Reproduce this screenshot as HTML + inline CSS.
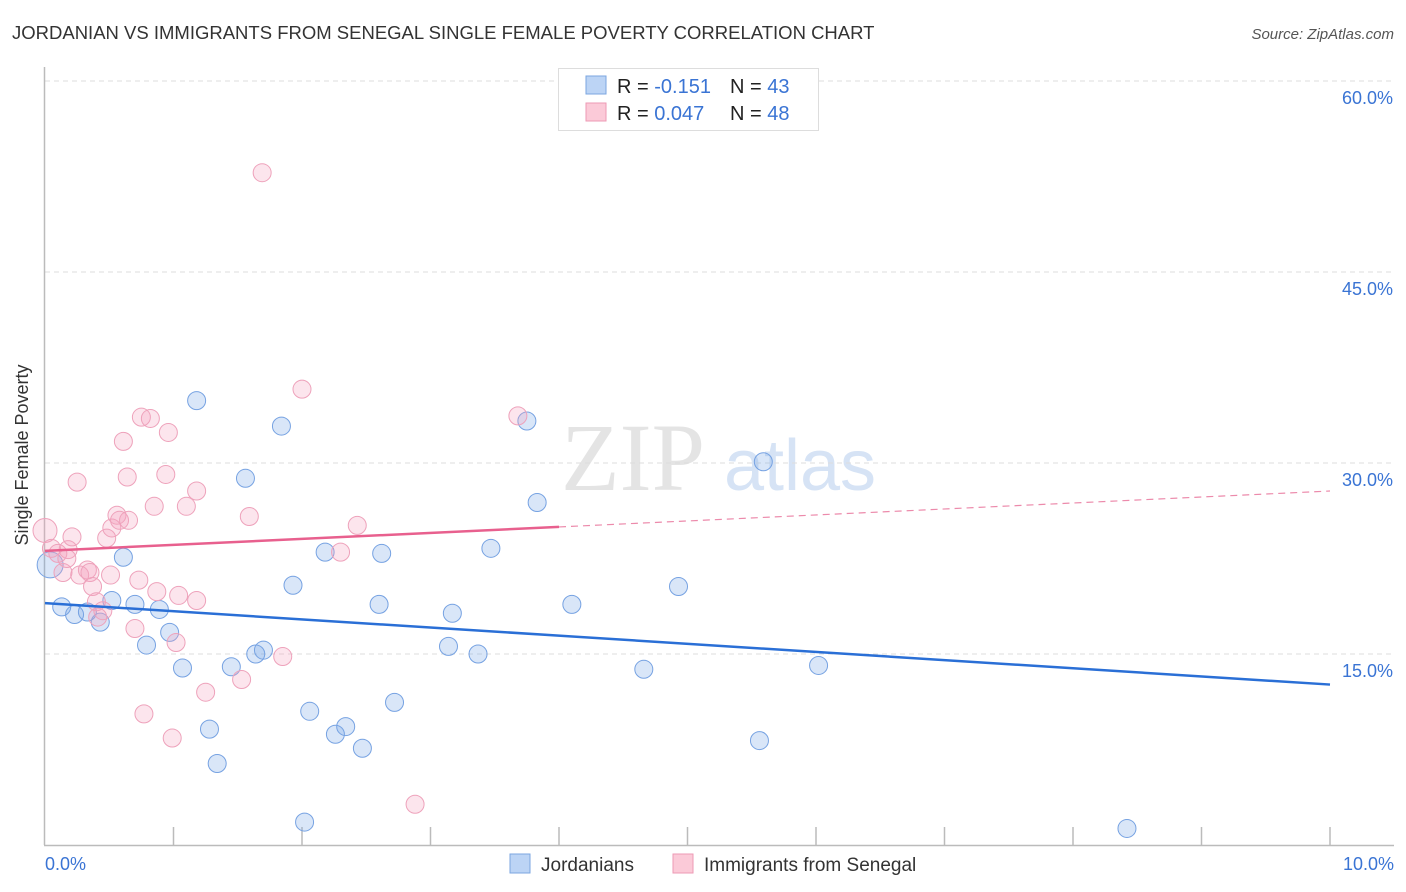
<!DOCTYPE html>
<html><head><meta charset="utf-8">
<style>
body{margin:0;background:#fff;font-family:"Liberation Sans",sans-serif;}
#wrap{position:relative;width:1406px;height:892px;overflow:hidden;}
svg{position:absolute;left:0;top:0;}
</style></head>
<body>
<div id="wrap">
<svg id="chart" width="1406" height="892">
  <text x="12" y="39" font-size="18.5" fill="#333">JORDANIAN VS IMMIGRANTS FROM SENEGAL SINGLE FEMALE POVERTY CORRELATION CHART</text>
  <text x="1394" y="39" font-size="15" fill="#555" font-style="italic" text-anchor="end">Source: ZipAtlas.com</text>
  <text x="633" y="490" font-size="96" fill="#e4e4e4" font-family="Liberation Serif,serif" text-anchor="middle">ZIP</text>
  <text x="800" y="490" font-size="72" fill="#d6e3f5" text-anchor="middle">atlas</text>
  <g id="grid"></g>
  <g id="axes"></g>
  <g id="pts"></g>
  <g id="trend"></g>
  <text transform="translate(28,455) rotate(-90)" font-size="18" fill="#333" text-anchor="middle">Single Female Poverty</text>
  <g>
    <rect x="558.5" y="68.5" width="260" height="62" fill="#fff" stroke="#ddd"/>
    <rect x="586" y="76" width="20" height="18" fill="#bcd4f5" stroke="#7ba6e0"/>
    <rect x="586" y="103" width="20" height="18" fill="#fbcad8" stroke="#ee9ab4"/>
    <text x="617" y="93" font-size="20" fill="#222">R = <tspan fill="#3a74d4">-0.151</tspan></text>
    <text x="730" y="93" font-size="20" fill="#222">N = <tspan fill="#3a74d4">43</tspan></text>
    <text x="617" y="120" font-size="20" fill="#222">R = <tspan fill="#3a74d4">0.047</tspan></text>
    <text x="730" y="120" font-size="20" fill="#222">N = <tspan fill="#3a74d4">48</tspan></text>
  </g>
  <g>
    <rect x="510" y="854" width="20" height="19" fill="#bcd4f5" stroke="#7ba6e0"/>
    <text x="541" y="871" font-size="19" fill="#333">Jordanians</text>
    <rect x="673" y="854" width="20" height="19" fill="#fbcad8" stroke="#ee9ab4"/>
    <text x="704" y="871" font-size="19" fill="#333">Immigrants from Senegal</text>
  </g>
  <text x="45" y="870" font-size="18" fill="#3a74d4">0.0%</text>
  <text x="1394" y="870" font-size="18" fill="#3a74d4" text-anchor="end">10.0%</text>
</svg>
</div>
<script>
const yTicks=[15,30,45,60];
const yTickLabels=["15.0%","30.0%","45.0%","60.0%"];
const xTicks=[0,1,2,3,4,5,6,7,8,9,10];
const blueX=[0.04,0.13,0.23,0.33,0.43,0.52,0.61,0.70,0.79,0.89,0.97,1.07,1.18,1.28,1.34,1.45,1.56,1.64,1.70,1.84,1.93,2.02,2.06,2.18,2.26,2.34,2.47,2.60,2.62,2.72,3.17,3.14,3.37,3.47,3.75,3.83,4.10,4.66,4.93,5.56,5.59,6.02,8.42];
const blueY=[22.0,18.7,18.1,18.3,17.5,19.2,22.6,18.9,15.7,18.5,16.7,13.9,34.9,9.1,6.4,14.0,28.8,15.0,15.3,32.9,20.4,1.8,10.5,23.0,8.7,9.3,7.6,18.9,22.9,11.2,18.2,15.6,15.0,23.3,33.3,26.9,18.9,13.8,20.3,8.2,30.1,14.1,1.3];
const pinkX=[0.0,0.05,0.10,0.14,0.18,0.21,0.25,0.27,0.33,0.35,0.37,0.40,0.45,0.48,0.52,0.56,0.58,0.61,0.64,0.65,0.70,0.73,0.75,0.77,0.82,0.85,0.87,0.94,0.96,0.99,1.02,1.04,1.10,1.18,1.18,1.25,1.53,1.59,1.69,1.85,2.00,2.30,2.43,2.88,3.68,0.17,0.41,0.51];
const pinkY=[24.7,23.3,22.9,21.4,23.2,24.2,28.5,21.2,21.6,21.4,20.3,19.1,18.4,24.1,24.9,25.9,25.5,31.7,28.9,25.5,17.0,20.8,33.6,10.3,33.5,26.6,19.9,29.1,32.4,8.4,15.9,19.6,26.6,27.8,19.2,12.0,13.0,25.8,52.8,14.8,35.8,23.0,25.1,3.2,33.7,22.5,17.9,21.2];
const blueTrend=[19.0,12.6];
const pinkTrend=[23.1,27.8];
const pinkSolidEnd=4.0;

const X=v=>45+v*128.5;
const Y=v=>845-v*12.733;
const NS="http://www.w3.org/2000/svg";
function mk(tag,attrs,parent){const e=document.createElementNS(NS,tag);for(const k in attrs)e.setAttribute(k,attrs[k]);parent.appendChild(e);return e;}
const grid=document.getElementById('grid'),axes=document.getElementById('axes'),pts=document.getElementById('pts'),trend=document.getElementById('trend');
yTicks.forEach((t,i)=>{
  const l=mk('line',{x1:45,x2:1394,y1:Y(t),y2:Y(t),stroke:'#ddd','stroke-dasharray':'5,4'},grid);
  
  
  const tx=mk('text',{x:1393,y:Y(t)+23,'font-size':18,fill:'#3a74d4','text-anchor':'end'},grid);
  tx.textContent=yTickLabels[i];
  
  
});
const ya=mk('line',{x1:44.5,x2:44.5,y1:67,y2:845,stroke:'#bbb','stroke-width':1.5},axes);


const xa=mk('line',{x1:44,x2:1394,y1:845.5,y2:845.5,stroke:'#bbb','stroke-width':1.5},axes);


xTicks.slice(1).forEach(t=>{
  const l=mk('line',{x1:X(t),x2:X(t),y1:827,y2:845,stroke:'#bbb','stroke-width':1.5},axes);
  
  
});
blueX.forEach((x,i)=>{
  const c=mk('circle',{cx:X(x),cy:Y(blueY[i]),r:i===0?13:9,fill:'rgba(120,165,230,0.28)',stroke:'#76a2e2','stroke-width':1},pts);
  
  
});
pinkX.forEach((x,i)=>{
  const c=mk('circle',{cx:X(x),cy:Y(pinkY[i]),r:i===0?12:9,fill:'rgba(245,160,190,0.28)',stroke:'#eea2bb','stroke-width':1},pts);
  
  
});
const bt=mk('line',{x1:X(0),y1:Y(blueTrend[0]),x2:X(10),y2:Y(blueTrend[1]),stroke:'#2a6fd6','stroke-width':2.5},trend);


const pAt=x=>pinkTrend[0]+(pinkTrend[1]-pinkTrend[0])*x/10;
const ps=mk('line',{x1:X(0),y1:Y(pAt(0)),x2:X(pinkSolidEnd),y2:Y(pAt(pinkSolidEnd)),stroke:'#e8608e','stroke-width':2.5},trend);


const pd=mk('line',{x1:X(pinkSolidEnd),y1:Y(pAt(pinkSolidEnd)),x2:X(10),y2:Y(pAt(10)),stroke:'#ec8aab','stroke-width':1.2,'stroke-dasharray':'7,5'},trend);


</script>
</body></html>
